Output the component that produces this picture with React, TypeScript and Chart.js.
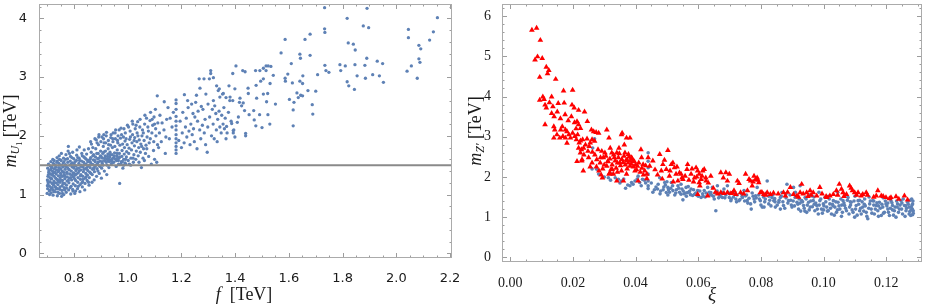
import React, { useEffect, useRef } from 'react';
import { Chart, registerables } from 'chart.js';

Chart.register(...registerables);

// ---------------- Left panel data: (f [TeV], m_U1 [TeV]) ----------------
const leftDense: [number, number][] = [
  [0.700,1.02],[0.702,1.10],[0.704,1.18],[0.701,1.25],[0.703,1.31],[0.706,1.38],[0.702,1.45],[0.705,1.52],[0.708,1.06],[0.709,1.14],[0.711,1.22],[0.710,1.29],[0.712,1.35],[0.713,1.42],[0.711,1.49],[0.714,1.56],[0.715,1.03],[0.716,1.11],[0.718,1.19],[0.717,1.27],[0.719,1.33],[0.720,1.40],[0.718,1.47],[0.721,1.60],[0.722,0.99],[0.723,1.08],[0.724,1.16],[0.725,1.23],[0.726,1.31],[0.724,1.37],[0.727,1.44],[0.728,1.51],[0.726,1.58],
  [0.730,1.05],[0.731,1.13],[0.733,1.20],[0.732,1.28],[0.734,1.35],[0.735,1.42],[0.733,1.49],[0.736,1.55],[0.737,1.63],[0.738,0.98],[0.739,1.10],[0.740,1.17],[0.741,1.25],[0.742,1.32],[0.741,1.39],[0.743,1.46],[0.744,1.53],[0.745,1.66],[0.746,1.02],[0.747,1.09],[0.748,1.21],[0.749,1.29],[0.750,1.36],[0.751,1.44],[0.749,1.50],[0.752,1.58],[0.753,1.70],[0.754,0.97],[0.755,1.07],[0.756,1.15],[0.757,1.24],[0.758,1.31],[0.756,1.40],[0.759,1.47],[0.760,1.54],[0.761,1.62],
  [0.762,1.00],[0.763,1.12],[0.765,1.19],[0.766,1.27],[0.764,1.34],[0.767,1.43],[0.768,1.51],[0.769,1.60],[0.770,1.68],[0.771,1.04],[0.772,1.16],[0.774,1.23],[0.775,1.30],[0.773,1.38],[0.776,1.46],[0.777,1.55],[0.778,1.74],[0.779,1.82],[0.780,1.08],[0.781,1.20],[0.783,1.28],[0.784,1.35],[0.782,1.42],[0.785,1.50],[0.786,1.57],[0.787,1.65],[0.788,1.01],[0.789,1.14],[0.791,1.25],[0.792,1.33],[0.790,1.40],[0.793,1.47],[0.794,1.54],[0.795,1.72],[0.796,1.06],[0.797,1.18],[0.798,1.30],[0.799,1.37],[0.800,1.45],[0.801,1.52],[0.799,1.61],
  [0.803,1.02],[0.805,1.15],[0.806,1.24],[0.804,1.33],[0.807,1.41],[0.808,1.49],[0.809,1.58],[0.810,1.67],[0.811,1.76],[0.813,1.10],[0.814,1.21],[0.815,1.29],[0.816,1.37],[0.817,1.45],[0.818,1.53],[0.819,1.62],[0.820,1.81],[0.822,1.05],[0.823,1.17],[0.824,1.26],[0.826,1.34],[0.825,1.42],[0.827,1.50],[0.828,1.57],[0.829,1.70],[0.831,1.13],[0.832,1.22],[0.833,1.31],[0.835,1.39],[0.834,1.47],[0.836,1.55],[0.837,1.64],[0.838,1.76],[0.840,1.08],[0.841,1.19],[0.842,1.28],[0.844,1.36],[0.843,1.44],[0.845,1.52],[0.846,1.60],[0.847,1.69],[0.849,1.24],[0.850,1.33],[0.851,1.41],[0.852,1.49],[0.853,1.58],[0.854,1.78],
  [0.856,1.16],[0.857,1.29],[0.859,1.38],[0.860,1.46],[0.861,1.55],[0.862,1.63],[0.864,1.72],[0.865,1.86],[0.867,1.21],[0.868,1.34],[0.869,1.43],[0.871,1.51],[0.872,1.59],[0.873,1.68],[0.875,1.25],[0.876,1.39],[0.878,1.48],[0.879,1.56],[0.880,1.64],[0.881,1.78],[0.883,1.93],[0.884,1.31],[0.886,1.44],[0.887,1.52],[0.888,1.61],[0.890,1.70],[0.891,1.85],[0.892,1.98],[0.894,1.36],[0.895,1.49],[0.897,1.57],[0.898,1.66],[0.899,1.74],[0.900,1.90],
  [0.902,1.28],[0.903,1.45],[0.905,1.53],[0.906,1.62],[0.907,1.70],[0.909,1.82],[0.910,1.95],[0.911,2.02],[0.913,1.40],[0.914,1.58],[0.916,1.66],[0.917,1.74],[0.918,1.88],[0.920,2.00],[0.922,1.34],[0.923,1.50],[0.924,1.61],[0.926,1.69],[0.927,1.78],[0.928,1.92],[0.930,1.46],[0.932,1.56],[0.933,1.64],[0.934,1.72],[0.936,1.84],[0.937,1.97],[0.939,1.52],[0.940,1.60],[0.942,1.68],[0.943,1.80],[0.945,1.90],[0.946,2.05],[0.948,1.55],[0.949,1.63],
  [0.951,1.71],[0.952,1.82],[0.954,1.95],[0.955,2.10],[0.957,1.48],[0.958,1.58],[0.960,1.66],[0.961,1.76],[0.963,1.88],[0.964,2.00],[0.966,1.52],[0.967,1.62],[0.969,1.70],[0.970,1.19],[0.971,1.84],[0.973,1.96],[0.975,2.13],[0.976,1.56],[0.978,1.65],[0.979,1.75],[0.981,1.86],[0.982,1.45],[0.984,1.98],[0.985,1.60],[0.987,1.69],[0.988,1.80],[0.990,1.91],[0.991,2.05],[0.993,1.52],[0.995,1.64],[0.996,1.73],[0.998,1.85],[0.999,2.18],
];

const leftDenseExtra: [number, number][] = [
  [0.701,1.15],[0.703,1.22],[0.705,1.34],[0.707,1.41],[0.709,1.00],[0.712,1.08],[0.714,1.27],[0.716,1.45],[0.719,1.12],[0.721,1.36],[0.723,1.53],[0.725,1.05],[0.727,1.20],[0.729,1.38],[0.732,1.47],[0.734,1.10],[0.736,1.26],[0.738,1.57],[0.740,1.04],[0.742,1.22],[0.744,1.41],[0.746,1.60],[0.748,1.13],[0.750,1.25],[0.752,1.33],[0.754,1.50],[0.757,1.02],[0.759,1.19],[0.761,1.38],[0.763,1.56],[0.765,1.08],[0.767,1.31],[0.769,1.48],[0.772,1.11],[0.774,1.36],[0.776,1.61],[0.779,1.24],[0.781,1.43],[0.783,1.70],[0.786,1.12],[0.788,1.29],[0.790,1.52],[0.792,1.63],[0.795,1.09],[0.797,1.36],[0.799,1.49],[0.802,1.27],[0.804,1.56],[0.806,1.06],[0.809,1.35],[0.811,1.44],[0.814,1.63],[0.816,1.14],[0.819,1.40],[0.821,1.58],[0.824,1.32],[0.826,1.48],[0.829,1.20],[0.831,1.66],[0.834,1.26],[0.837,1.43],[0.839,1.51],[0.842,1.62],[0.845,1.30],[0.848,1.46],[0.851,1.56],[0.854,1.21],[0.857,1.50],[0.860,1.60],[0.863,1.36],[0.866,1.52],[0.870,1.66],[0.874,1.44],[0.877,1.58],[0.882,1.50],[0.885,1.70],[0.889,1.40],[0.893,1.62],[0.897,1.48],[0.901,1.65],[0.905,1.56],[0.910,1.72],[0.915,1.62],[0.920,1.55],[0.925,1.65],[0.930,1.60],[0.935,1.68],[0.940,1.58],[0.945,1.62],[0.950,1.66],[0.955,1.60],[0.960,1.70],[0.965,1.58],[0.970,1.64],[0.975,1.52],[0.980,1.56],[0.985,1.50],[0.990,1.54],
  [0.862,1.90],[0.870,1.80],[0.878,1.95],[0.886,1.88],[0.893,2.02],[0.904,1.98],[0.912,1.88],[0.921,2.06],[0.929,1.85],[0.938,2.02],[0.944,1.95],[0.953,2.05],[0.962,1.92],[0.968,2.10],[0.977,2.02],[0.986,2.12],[0.994,1.95],[0.992,1.60],[0.962,1.62],[0.944,1.55],[0.926,1.58],[0.908,1.50],[0.890,1.55],[0.873,1.45],
];

const leftMid: [number, number][] = [
  [1.002,1.58],[1.004,1.70],[1.005,1.79],[1.007,1.94],[1.009,2.08],[1.011,1.50],[1.012,1.62],[1.014,1.76],[1.016,1.88],[1.018,2.02],[1.019,2.20],[1.021,1.55],[1.023,1.68],[1.025,1.83],[1.026,1.97],[1.028,2.12],[1.030,1.60],[1.032,1.74],[1.034,1.90],[1.035,2.05],[1.037,2.24],[1.039,1.66],[1.041,1.80],[1.043,1.93],[1.045,2.15],[1.047,1.72],[1.049,1.86],[1.051,1.46],[1.053,2.00],[1.055,2.10],
  [1.003,2.15],[1.010,1.98],[1.017,2.25],[1.024,1.92],[1.031,2.18],[1.038,2.00],[1.046,2.28],[1.052,1.82],[1.058,2.05],[1.064,2.35],[1.071,1.78],[1.077,2.08],[1.084,1.95],[1.091,2.28],[1.097,1.90],[1.104,2.12],[1.111,1.85],[1.118,2.05],[1.128,2.22],[1.142,1.98],[1.158,2.30],[1.100,2.20],[1.062,1.58],[1.042,1.55],[1.020,1.62],[1.006,1.52],
  [1.057,1.62],[1.059,1.78],[1.061,1.92],[1.063,2.20],[1.066,1.70],[1.068,1.84],[1.070,2.30],[1.072,1.98],[1.075,2.15],[1.078,1.65],[1.080,1.88],[1.083,2.26],[1.085,2.40],[1.088,1.52],[1.090,2.05],[1.093,2.18],[1.096,1.75],[1.098,2.32],[1.100,1.60],[1.103,2.45],[1.105,2.00],[1.108,1.55],[1.110,2.68],[1.112,2.22],
  [1.115,1.80],[1.120,2.35],[1.125,1.90],[1.136,2.58],[1.135,2.10],[1.140,1.70],[1.145,2.28],[1.150,2.48],[1.155,1.95],[1.165,2.15],[1.170,2.40],
  [1.180,1.70],[1.180,1.76],[1.180,1.82],[1.180,1.88],[1.180,1.95],[1.180,2.02],[1.180,2.10],[1.180,2.17],[1.180,2.25],[1.180,2.33],[1.180,2.45],[1.180,2.55],[1.180,2.61],
  [1.190,1.92],[1.195,2.25],[1.200,1.80],[1.203,2.05],[1.205,2.40],[1.210,1.88],[1.211,2.70],[1.215,2.15],[1.218,2.30],[1.220,1.98],[1.225,2.48],[1.228,2.08],[1.223,2.60],[1.232,1.85],[1.235,2.20],[1.238,2.54],[1.240,2.02],[1.243,2.38],[1.245,2.12],[1.248,1.90],[1.250,2.32],[1.253,2.57],[1.256,2.69],[1.258,1.78],[1.260,2.25],[1.262,2.42],[1.266,2.97],[1.268,2.10],[1.269,2.81],[1.272,1.95],[1.274,2.50],[1.278,2.18],[1.280,2.45],[1.284,2.97],[1.285,2.05],[1.288,2.28],[1.290,1.85],[1.291,2.71],[1.296,1.72],[1.298,2.15],
  [1.299,2.54],[1.305,2.32],[1.309,3.11],[1.309,3.06],[1.312,2.00],[1.304,2.97],[1.319,2.99],[1.315,2.45],[1.318,2.20],[1.319,2.60],[1.322,1.95],[1.324,2.51],[1.328,2.38],[1.331,2.85],[1.330,2.10],[1.333,1.90],[1.335,2.28],[1.337,2.77],[1.341,2.80],[1.340,2.42],[1.343,2.15],[1.343,2.66],[1.348,2.05],[1.350,2.35],[1.353,2.71],[1.356,2.72],[1.355,2.20],[1.358,2.48],[1.360,2.12],[1.363,2.30],[1.366,2.65],[1.366,1.95],[1.368,2.16],[1.370,2.05],[1.375,2.40],[1.377,2.85],[1.380,2.60],[1.385,2.25],[1.387,2.21],[1.391,3.06],[1.391,2.60],[1.393,2.09],[1.393,2.05],[1.395,2.10],[1.399,1.98],[1.399,2.80],[1.381,2.66],[1.403,3.19],[1.408,2.23],[1.412,2.32],[1.416,2.57],
];

const leftSparse: [number, number][] = [
  [1.428,3.11],[1.437,3.09],[1.476,3.11],[1.492,3.11],[1.515,3.11],[1.505,3.15],[1.515,3.19],[1.523,3.19],[1.533,3.18],[1.542,3.03],[1.596,3.05],[1.586,2.98],[1.587,2.93],[1.652,3.02],[1.613,2.90],[1.641,2.93],[1.651,2.89],[1.707,3.04],[1.734,3.20],[1.738,3.11],[1.749,3.08],[1.478,2.86],[1.495,2.93],[1.505,2.97],[1.530,2.89],[1.448,2.81],[1.449,2.72],[1.480,2.64],[1.505,2.71],[1.521,2.72],[1.517,2.58],[1.550,2.54],[1.418,2.64],[1.430,2.56],[1.424,2.51],[1.435,2.43],[1.469,2.43],[1.452,2.36],[1.491,2.36],[1.522,2.36],[1.471,2.27],[1.477,2.17],[1.500,2.14],[1.529,2.20],[1.439,2.04],[1.439,2.00],[1.602,2.62],[1.619,2.57],[1.616,2.44],[1.616,2.17],[1.635,2.65],[1.644,2.69],[1.651,2.68],[1.630,2.73],[1.671,2.77],[1.687,2.53],[1.689,2.37],[1.700,2.76],
  [1.790,3.21],[1.810,3.19],[1.793,3.11],[1.817,4.00],[1.821,3.58],[1.840,3.56],[1.847,3.46],[1.846,3.21],[1.854,3.02],[1.877,3.87],[1.897,3.84],[1.891,4.17],[1.733,4.18],[1.733,3.82],[1.734,3.76],[1.883,3.20],[1.890,3.32],[1.885,2.98],[1.912,3.04],[1.937,3.02],[1.929,3.27],[1.949,3.23],[1.952,2.91],[1.817,2.92],[1.823,2.85],[1.844,2.79],
  [2.045,3.81],[2.045,3.67],[2.153,4.01],[2.138,3.77],[2.124,3.63],[2.084,3.54],[2.091,3.48],[2.084,3.31],[2.088,3.25],[2.056,3.19],[2.040,3.10],[2.078,2.98],
  [1.586,3.64],[1.571,3.41],[1.660,3.64],[1.679,3.73],[1.641,3.39],[1.679,3.37],[1.643,3.32],[1.609,3.23],
];

const mU1Bound = 1.5;

// ---------------- Right panel data: (xi, m_Z' [TeV]) ----------------
const redPoints: [number, number][] = [
  [0.0069,5.65],[0.0084,5.70],[0.0096,5.40],[0.0079,4.91],[0.0087,4.99],[0.0102,4.95],[0.0094,4.48],[0.0115,4.73],[0.0123,4.65],[0.0119,4.57],[0.0145,4.43],[0.0094,3.91],[0.0104,3.99],[0.0108,3.93],[0.0111,3.79],[0.0115,3.72],[0.0111,3.30],[0.0132,3.99],[0.0136,3.75],[0.0132,3.58],[0.0140,3.50],[0.0139,3.25],[0.0142,3.17],[0.0139,2.97],[0.0149,3.05],[0.0153,3.83],[0.0170,4.14],[0.0172,3.84],[0.0166,3.25],[0.0161,3.17],[0.0168,3.01],[0.0176,3.17],[0.0181,3.13],[0.0158,2.97],[0.0176,2.97],[0.0181,2.84],[0.0187,3.05],[0.0199,4.16],[0.0197,3.79],[0.0204,3.72],[0.0199,3.09],[0.0192,2.97],[0.0206,3.01],[0.0218,3.66],[0.0237,3.62],[0.0213,3.38],[0.0218,3.30],[0.0224,3.21],[0.0246,3.38],[0.0211,2.93],[0.0224,2.90],[0.0231,2.93],[0.0218,2.72],[0.0227,2.68],[0.0234,2.72],[0.0213,2.39],[0.0229,2.43],[0.0224,2.60],[0.0233,2.15],
  [0.0259,3.17],[0.0266,3.13],[0.0274,3.11],[0.0282,3.09],[0.0308,3.17],[0.0261,2.93],[0.0269,2.89],[0.0252,2.76],[0.0248,2.64],[0.0261,2.35],[0.0276,2.43],[0.0287,2.35],[0.0280,2.68],[0.0292,2.64],[0.0297,2.48],[0.0294,1.98],[0.0302,2.60],[0.0315,2.97],[0.0319,2.72],[0.0324,2.60],[0.0311,2.39],[0.0308,2.27],[0.0322,2.19],[0.0315,2.07],[0.0329,2.07],[0.0340,1.90],[0.0332,2.48],[0.0340,2.60],[0.0345,2.48],[0.0350,2.35],[0.0355,3.05],[0.0357,3.09],[0.0347,2.72],[0.0364,2.80],[0.0371,2.97],[0.0382,2.97],[0.0366,2.60],[0.0377,2.56],[0.0374,2.41],[0.0387,2.48],[0.0392,2.39],[0.0382,2.27],[0.0355,2.15],[0.0371,2.07],[0.0361,1.90],[0.0398,2.15],[0.0406,2.27],[0.0417,2.68],[0.0419,2.48],[0.0424,2.31],[0.0429,2.15],[0.0408,1.90],[0.0440,2.48],[0.0445,2.27],[0.0436,2.07],
  [0.0477,2.56],[0.0487,2.31],[0.0498,2.19],[0.0503,2.66],[0.0514,2.31],[0.0519,2.35],[0.0524,2.23],[0.0482,2.15],[0.0508,2.02],[0.0529,2.07],[0.0545,2.07],[0.0551,1.94],[0.0535,1.90],[0.0566,2.31],[0.0564,2.19],[0.0577,2.07],[0.0593,2.23],[0.0598,2.15],[0.0603,2.07],[0.0609,1.94],[0.0614,2.15],[0.0619,2.19],[0.0588,1.98],[0.0603,1.86],[0.0624,1.98],[0.0640,2.02],[0.0598,1.57],[0.0630,1.53],
  [0.0672,2.11],[0.0688,2.11],[0.0699,2.07],[0.0680,1.98],[0.0693,1.90],[0.0672,1.61],[0.0682,1.59],[0.0693,1.61],[0.0704,1.59],[0.0714,1.66],[0.0725,1.90],[0.0730,1.84],[0.0720,1.57],[0.0735,1.61],[0.0751,2.07],[0.0762,1.94],[0.0767,1.90],[0.0778,2.02],[0.0783,1.94],[0.0788,1.98],[0.0793,1.86],[0.0772,1.78],[0.0798,1.61],[0.0809,1.57],[0.0820,1.61],[0.0830,1.57],[0.0872,1.61],[0.0878,1.53],[0.0894,1.74],[0.0904,1.57],[0.0915,1.53],[0.0930,1.82],[0.0925,1.61],[0.0946,1.61],[0.0957,1.66],[0.0967,1.61],[0.0988,1.74],[0.0978,1.53],[0.1010,1.49],[0.1020,1.53],[0.1031,1.57],[0.1050,1.82],[0.1041,1.66],[0.1057,1.70],[0.1062,1.61],[0.1073,1.57],[0.1083,1.78],[0.1092,1.66],[0.1099,1.61],[0.1110,1.61],[0.1120,1.53],[0.1136,1.61],[0.1125,1.57],[0.1173,1.66],[0.1168,1.53],[0.1184,1.53],[0.1199,1.49],[0.1215,1.49],[0.1231,1.51],[0.1258,1.53],[0.1268,1.43],
];

const redPointsExtra: [number, number][] = [
  [0.0305,2.52],[0.0312,2.38],[0.0318,2.45],[0.0325,2.30],[0.0330,2.55],[0.0335,2.40],[0.0338,2.22],[0.0342,2.35],[0.0348,2.58],[0.0352,2.28],[0.0356,2.44],[0.0360,2.36],[0.0363,2.52],[0.0367,2.30],[0.0370,2.42],[0.0373,2.20],[0.0376,2.35],[0.0379,2.50],[0.0383,2.40],[0.0386,2.32],[0.0389,2.45],[0.0393,2.25],[0.0396,2.38],[0.0400,2.30],[0.0403,2.18],[0.0410,2.35],[0.0415,2.12],[0.0420,2.22],[0.0425,2.05],[0.0432,2.28],[0.0436,1.96],[0.0342,2.12],[0.0326,2.18],[0.0318,2.10],[0.0300,2.30],[0.0295,2.20],[0.0288,2.48],[0.0270,2.55],[0.0262,2.62],[0.0255,2.85],[0.0245,2.95],[0.0240,2.80],[0.0235,2.55],[0.0228,2.40],[0.0220,2.85],[0.0215,3.05],[0.0210,3.20],[0.0205,3.35],[0.0195,3.50],[0.0185,3.40],[0.0175,3.55],[0.0160,3.45],[0.0150,3.62],[0.0125,3.85],[0.0255,2.25],[0.0250,2.48],[0.0275,2.25],[0.0283,2.15],[0.0290,2.05],
  [0.0455,2.40],[0.0462,2.18],[0.0470,2.05],[0.0485,1.95],[0.0492,2.42],[0.0510,2.15],[0.0520,1.88],[0.0532,2.25],[0.0540,2.10],[0.0548,1.98],[0.0558,2.02],[0.0570,1.92],[0.0580,2.20],[0.0585,1.88],[0.0595,2.00],[0.0605,1.78],[0.0612,2.02],[0.0625,1.90],[0.0632,1.85],[0.0648,1.72],[0.0655,1.62],[0.0662,1.58],
  [0.0710,1.60],[0.0745,1.58],[0.0757,1.66],[0.0775,1.88],[0.0790,1.92],[0.0803,1.62],[0.0815,1.55],[0.0840,1.60],[0.0855,1.58],[0.0885,1.62],[0.0920,1.50],[0.0935,1.58],[0.0950,1.52],[0.0960,1.55],[0.0995,1.58],[0.1008,1.52],[0.1045,1.55],[0.1065,1.52],[0.1088,1.72],[0.1105,1.55],[0.1140,1.55],[0.1160,1.50],[0.1190,1.52],[0.1210,1.46],[0.1240,1.45],
];

const bluePoints: [number, number][] = [
  [0.0269,2.95],[0.0263,2.72],[0.0261,2.20],[0.0276,2.19],[0.0282,2.07],[0.0313,1.98],[0.0324,2.07],[0.0345,1.94],[0.0355,1.90],[0.0368,1.72],[0.0382,1.78],[0.0387,1.86],[0.0398,1.90],[0.0408,2.02],[0.0413,1.86],[0.0422,1.94],[0.0440,2.60],[0.0440,2.39],[0.0440,2.23],[0.0440,2.07],[0.0440,1.90],[0.0440,1.78],[0.0440,1.71],
  [0.0477,1.98],[0.0493,1.86],[0.0503,1.74],[0.0498,1.61],[0.0514,1.86],[0.0519,1.66],[0.0535,1.78],[0.0545,1.57],[0.0551,1.43],[0.0561,1.74],[0.0566,1.61],[0.0577,1.70],[0.0588,1.57],[0.0598,1.66],[0.0609,1.49],[0.0619,1.66],[0.0630,1.74],[0.0640,1.61],[0.0645,1.74],[0.0651,1.45],[0.0656,1.16],[0.0661,1.78],[0.0667,1.57],[0.0677,1.49],[0.0682,1.70],[0.0693,1.78],[0.0699,1.49],[0.0704,1.41],[0.0709,1.61],[0.0720,1.45],[0.0730,1.41],[0.0741,1.49],[0.0746,1.66],[0.0751,1.53],[0.0756,1.41],[0.0767,1.33],[0.0769,1.20],[0.0778,1.45],[0.0783,1.53],[0.0788,1.74],[0.0798,1.41],[0.0804,1.25],[0.0814,1.45],[0.0820,1.90],[0.0825,1.33],[0.0835,1.49],[0.0841,1.41],[0.0846,1.25],[0.0857,1.37],[0.0862,1.49],[0.0867,1.61],[0.0872,1.29],[0.0883,1.82],[0.0888,1.41],[0.0899,1.25],[0.0904,1.74],[0.0909,1.49],[0.0915,1.37],[0.0920,1.20],[0.0925,1.78],[0.0930,1.41],[0.0936,1.29],[0.0941,1.49],[0.0946,1.12],[0.0952,1.37],[0.0957,1.25],[0.0962,1.53],[0.0967,1.41],[0.0972,1.16],[0.0978,1.29],[0.0983,1.08],[0.0988,1.41],[0.0993,1.20],[0.0999,1.33],[0.1004,1.49],[0.1010,1.25],[0.1015,1.16],[0.1020,1.33],[0.1025,1.08],[0.1031,1.41],[0.1036,1.25],[0.1041,1.12],[0.1046,1.37],[0.1052,1.20],[0.1057,1.02],[0.1062,1.41],[0.1067,1.29],[0.1073,1.16],[0.1078,1.49],[0.1083,1.25],[0.1088,1.37],[0.1094,1.12],[0.1099,1.00],[0.1104,1.29],[0.1110,1.41],[0.1115,1.16],[0.1120,1.08],[0.1125,1.25],[0.1131,1.45],[0.1136,1.12],[0.1141,0.96],[0.1147,1.33],[0.1152,1.20],[0.1157,1.41],[0.1162,1.08],[0.1168,1.29],[0.1173,1.16],[0.1178,1.37],[0.1184,1.04],[0.1189,1.25],[0.1194,1.12],[0.1199,1.33],[0.1205,1.20],[0.1210,1.04],[0.1215,1.41],[0.1220,1.29],[0.1226,1.16],[0.1231,1.00],[0.1236,1.33],[0.1242,1.20],[0.1247,1.41],[0.1252,1.08],[0.1258,1.29],[0.1263,1.16],[0.1268,1.37],[0.1273,1.25],[0.1278,1.04],[0.1284,1.33],[0.1286,1.16],[0.1281,1.45],[0.1273,1.08],
];

const bluePointsExtra: [number, number][] = [
  [0.0455,1.62],[0.0465,1.75],[0.0478,1.58],[0.0488,1.68],[0.0495,1.80],[0.0508,1.62],[0.0512,1.72],[0.0525,1.55],[0.0530,1.68],[0.0540,1.62],[0.0548,1.70],[0.0555,1.58],[0.0562,1.52],[0.0572,1.64],[0.0582,1.54],[0.0592,1.60],[0.0600,1.52],[0.0614,1.58],[0.0622,1.50],[0.0635,1.62],[0.0642,1.55],[0.0654,1.60],[0.0670,1.52],[0.0678,1.62],[0.0688,1.55],[0.0503,1.55],[0.0470,1.70],
  [0.0700,1.58],[0.0712,1.50],[0.0716,1.62],[0.0724,1.55],[0.0733,1.44],[0.0738,1.58],[0.0748,1.40],[0.0754,1.55],[0.0762,1.47],[0.0772,1.60],[0.0780,1.38],[0.0785,1.48],[0.0793,1.55],[0.0800,1.30],[0.0808,1.50],[0.0812,1.38],[0.0818,1.60],[0.0828,1.42],[0.0832,1.28],[0.0838,1.55],[0.0844,1.46],[0.0852,1.30],[0.0858,1.42],[0.0865,1.52],[0.0870,1.38],[0.0876,1.22],[0.0880,1.48],[0.0886,1.35],[0.0893,1.55],[0.0897,1.30],
  [0.0903,1.40],[0.0907,1.28],[0.0912,1.52],[0.0918,1.32],[0.0922,1.45],[0.0927,1.15],[0.0933,1.38],[0.0938,1.22],[0.0944,1.45],[0.0948,1.30],[0.0954,1.18],[0.0959,1.40],[0.0964,1.26],[0.0969,1.50],[0.0975,1.35],[0.0980,1.20],[0.0986,1.30],[0.0991,1.45],[0.0996,1.10],[0.1001,1.28],[0.1007,1.38],[0.1012,1.15],[0.1018,1.45],[0.1022,1.22],[0.1028,1.32],[0.1034,1.05],[0.1039,1.38],[0.1044,1.18],[0.1049,1.28],[0.1055,1.45],[0.1060,1.12],[0.1065,1.35],[0.1070,1.22],[0.1076,1.42],[0.1081,1.08],[0.1086,1.30],[0.1091,1.18],[0.1097,1.40],
  [0.1102,1.20],[0.1107,1.05],[0.1112,1.32],[0.1118,1.22],[0.1123,1.38],[0.1128,1.15],[0.1133,1.28],[0.1138,1.02],[0.1144,1.22],[0.1149,1.40],[0.1154,1.10],[0.1160,1.30],[0.1165,1.20],[0.1170,1.36],[0.1175,1.02],[0.1181,1.22],[0.1186,1.32],[0.1191,1.10],[0.1197,1.40],[0.1202,1.28],[0.1207,1.12],[0.1213,1.22],[0.1218,1.36],[0.1223,1.05],[0.1228,1.25],[0.1233,1.40],[0.1239,1.12],[0.1244,1.30],[0.1249,1.20],[0.1254,1.45],[0.1260,1.02],[0.1265,1.22],[0.1270,1.32],[0.1275,1.14],[0.1280,1.25],[0.1284,1.06],[0.1285,1.40],[0.1283,1.20],
  [0.0300,2.00],[0.0320,1.92],[0.0335,1.98],[0.0350,1.85],[0.0362,1.95],[0.0375,1.80],[0.0392,1.82],[0.0405,1.95],[0.0418,1.78],[0.0428,1.92],[0.0432,1.85],
  [0.0450,1.85],[0.0460,1.68],[0.0472,1.82],[0.0480,1.65],[0.0490,1.75],[0.0500,1.88],[0.0505,1.68],[0.0518,1.78],[0.0528,1.60],[0.0538,1.72],[0.0545,1.82],[0.0552,1.65],[0.0560,1.60],[0.0568,1.76],[0.0575,1.56],[0.0585,1.68],[0.0595,1.55],[0.0605,1.65],[0.0615,1.52],[0.0625,1.60],[0.0638,1.56],[0.0648,1.52],[0.0660,1.65],[0.0665,1.48],[0.0675,1.58],[0.0685,1.48],[0.0695,1.62],
  [0.0705,1.45],[0.0722,1.38],[0.0740,1.52],[0.0758,1.35],[0.0775,1.52],[0.0795,1.45],[0.0810,1.25],[0.0825,1.52],[0.0845,1.38],[0.0862,1.20],[0.0880,1.58],[0.0895,1.42],[0.0910,1.62],[0.0925,1.35],[0.0940,1.15],[0.0955,1.55],[0.0970,1.32],[0.0985,1.62],[0.1000,1.18],[0.1015,1.52],[0.1030,1.28],[0.1045,1.62],[0.1058,1.30],[0.1072,1.55],[0.1085,1.38],[0.1100,1.52],[0.1115,1.42],[0.1130,1.32],[0.1145,1.50],[0.1160,1.40],[0.1175,1.28],[0.1190,1.48],[0.1205,1.35],[0.1220,1.18],[0.1235,1.25],[0.1250,1.35],[0.1262,1.28],[0.1276,1.42],[0.1282,1.30],[0.1286,1.10],[0.1279,1.18],
];

// ---------------- Ticks ----------------
const leftXTicks = [0.8, 1.0, 1.2, 1.4, 1.6, 1.8, 2.0, 2.2];
const leftYTicks = [0, 1, 2, 3, 4];
const rightXTicks = [0, 0.02, 0.04, 0.06, 0.08, 0.1, 0.12];
const rightYTicks = [0, 1, 2, 3, 4, 5, 6];

const BLUE = '#5e81b5';
const RED = '#ff0000';
const SERIF = '"Liberation Serif", "Times New Roman", serif';
const SANS = '"DejaVu Sans", sans-serif';

type Seg = { t: string; font: string; dy?: number };

function drawRich(ctx: CanvasRenderingContext2D, segs: Seg[], cx: number, cy: number, angle: number) {
  ctx.save();
  ctx.translate(cx, cy);
  ctx.rotate(angle);
  let total = 0;
  for (const s of segs) { ctx.font = s.font; total += ctx.measureText(s.t).width; }
  let x = -total / 2;
  ctx.textBaseline = 'alphabetic';
  ctx.textAlign = 'left';
  ctx.fillStyle = '#1a1a1a';
  for (const s of segs) {
    ctx.font = s.font;
    ctx.fillText(s.t, x, s.dy || 0);
    x += ctx.measureText(s.t).width;
  }
  ctx.restore();
}

function framePlugin(cfg: any) {
  return {
    id: 'mmaFrame',
    afterDraw(chart: any) {
      const { ctx, chartArea: a, scales } = chart;
      const xs = scales.x, ys = scales.y;
      ctx.save();
      ctx.strokeStyle = '#9c9c9c';
      ctx.lineWidth = 1;
      const seg = (x1: number, y1: number, x2: number, y2: number) => {
        ctx.beginPath(); ctx.moveTo(x1, y1); ctx.lineTo(x2, y2); ctx.stroke();
      };
      const nx = Math.round((cfg.xTo - cfg.xFrom) / cfg.xStep);
      for (let i = 0; i <= nx; i++) {
        const v = cfg.xFrom + i * cfg.xStep;
        const px = Math.round(xs.getPixelForValue(v)) + 0.5;
        const major = cfg.xMajor.some((m: number) => Math.abs(m - v) < 1e-7);
        const L = major ? 5 : 2.5;
        seg(px, a.bottom, px, a.bottom - L);
        seg(px, a.top, px, a.top + L);
      }
      const ny = Math.round((cfg.yTo - cfg.yFrom) / cfg.yStep);
      for (let i = 0; i <= ny; i++) {
        const v = cfg.yFrom + i * cfg.yStep;
        const py = Math.round(ys.getPixelForValue(v)) + 0.5;
        const major = cfg.yMajor.some((m: number) => Math.abs(m - v) < 1e-7);
        const L = major ? 5 : 2.5;
        seg(a.left, py, a.left + L, py);
        seg(a.right, py, a.right - L, py);
      }
      ctx.strokeStyle = '#ababab';
      ctx.strokeRect(a.left + 0.5, a.top + 0.5, a.right - a.left - 1, a.bottom - a.top - 1);
      ctx.restore();
      cfg.titles(ctx);
    },
  };
}

function makeScale(min: number, max: number, ticks: number[], fmt: (v: number) => string, font: any, pad: number, size: number, horizontal: boolean) {
  return {
    type: 'linear',
    min, max,
    grid: { display: false },
    border: { display: false },
    afterBuildTicks: (s: any) => { s.ticks = ticks.map((v) => ({ value: v })); },
    afterFit: (s: any) => {
      if (horizontal) { s.height = size; s.paddingLeft = 0; s.paddingRight = 0; }
      else { s.width = size; s.paddingTop = 0; s.paddingBottom = 0; }
    },
    ticks: {
      autoSkip: false, maxRotation: 0, minRotation: 0,
      padding: pad, color: '#1a1a1a', font,
      callback: (v: any) => fmt(Number(v)),
    },
  };
}

function LeftChart() {
  const ref = useRef<HTMLCanvasElement>(null);
  useEffect(() => {
    const xMin = 0.6697, xMax = 2.2073;
    const pts = [...leftDense, ...leftDenseExtra, ...leftMid, ...leftSparse].map(([x, y]) => ({ x, y }));
    const chart = new Chart(ref.current as HTMLCanvasElement, {
      type: 'scatter',
      data: {
        datasets: [
          {
            type: 'line',
            data: [{ x: xMin, y: mU1Bound }, { x: xMax, y: mU1Bound }],
            borderColor: '#8a8a8a', borderWidth: 2, pointRadius: 0, fill: false,
          } as any,
          {
            data: pts,
            backgroundColor: BLUE, borderWidth: 0, pointRadius: 1.65,
          },
        ],
      },
      options: {
        animation: false, responsive: false, devicePixelRatio: 1,
        layout: { padding: { left: 0, right: 28, top: 3, bottom: 0 } },
        plugins: { legend: { display: false }, tooltip: { enabled: false } },
        scales: {
          x: makeScale(xMin, xMax, leftXTicks, (v) => v.toFixed(1), { family: SANS, size: 13 }, 5, 50, true),
          y: makeScale(-0.079, 4.243, leftYTicks, (v) => String(Math.round(v)), { family: SANS, size: 13 }, 4, 39, false),
        } as any,
      },
      plugins: [framePlugin({
        xFrom: 0.7, xTo: 2.2, xStep: 0.05, xMajor: leftXTicks,
        yFrom: 0, yTo: 4.2, yStep: 0.2, yMajor: leftYTicks,
        titles: (ctx: CanvasRenderingContext2D) => {
          drawRich(ctx, [
            { t: 'm', font: `italic 18px ${SERIF}` },
            { t: 'U', font: `italic 12px ${SERIF}`, dy: 3 },
            { t: '1', font: `8px ${SERIF}`, dy: 6 },
            { t: ' [TeV]', font: `18px ${SERIF}` },
          ], 16, 131, -Math.PI / 2);
          drawRich(ctx, [
            { t: 'f', font: `italic 18px ${SERIF}` },
            { t: '  [TeV]', font: `18px ${SERIF}` },
          ], 244, 300, 0);
        },
      })],
    } as any);
    return () => chart.destroy();
  }, []);
  return <canvas ref={ref} width={480} height={308} style={{ position: 'absolute', left: 0, top: 0 }} />;
}

function RightChart() {
  const ref = useRef<HTMLCanvasElement>(null);
  useEffect(() => {
    const red = [...redPoints, ...redPointsExtra].map(([x, y]) => ({ x, y }));
    const blue = [...bluePoints, ...bluePointsExtra].map(([x, y]) => ({ x, y }));
    const chart = new Chart(ref.current as HTMLCanvasElement, {
      type: 'scatter',
      data: {
        datasets: [
          { data: red, backgroundColor: RED, borderWidth: 0, pointStyle: 'triangle', pointRadius: 3.3 },
          { data: blue, backgroundColor: BLUE, borderWidth: 0, pointRadius: 1.8 },
        ],
      },
      options: {
        animation: false, responsive: false, devicePixelRatio: 1,
        layout: { padding: { left: 0, right: 1, top: 1, bottom: 0 } },
        plugins: { legend: { display: false }, tooltip: { enabled: false } },
        scales: {
          x: makeScale(-0.00264, 0.1314, rightXTicks, (v) => v.toFixed(2), { family: SERIF, size: 14 }, 5, 46, true),
          y: makeScale(-0.115, 6.30, rightYTicks, (v) => String(Math.round(v)), { family: SERIF, size: 14 }, 3, 36, false),
        } as any,
      },
      plugins: [framePlugin({
        xFrom: 0, xTo: 0.13, xStep: 0.005, xMajor: rightXTicks,
        yFrom: 0, yTo: 6.2, yStep: 0.2, yMajor: rightYTicks,
        titles: (ctx: CanvasRenderingContext2D) => {
          drawRich(ctx, [
            { t: 'm', font: `italic 18px ${SERIF}` },
            { t: 'Z′', font: `italic 12px ${SERIF}`, dy: 3 },
            { t: ' [TeV]', font: `18px ${SERIF}` },
          ], 15, 131, -Math.PI / 2);
          drawRich(ctx, [{ t: 'ξ', font: `italic 19px ${SERIF}` }], 246, 300, 0);
        },
      })],
    } as any);
    return () => chart.destroy();
  }, []);
  return <canvas ref={ref} width={460} height={308} style={{ position: 'absolute', left: 466, top: 0 }} />;
}

export default function App() {
  return (
    <div style={{ position: 'absolute', left: 0, top: 0, width: 926, height: 308, background: '#fff', overflow: 'hidden' }}>
      <LeftChart />
      <RightChart />
    </div>
  );
}
